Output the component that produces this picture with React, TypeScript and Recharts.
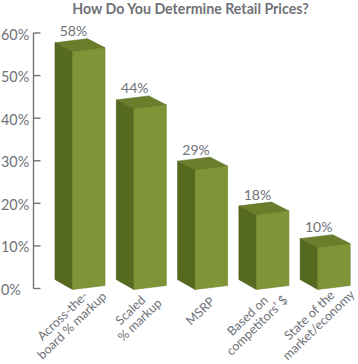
import { ComposedChart, Bar, Line, XAxis, YAxis, LabelList } from 'recharts';

const categories = ['Across-the-|board % markup', 'Scaled|% markup', 'MSRP', 'Based on|competitors’ $', 'State of the|market/economy'];
const values = [58, 44, 29, 18, 10];
const yTicks = [0, 10, 20, 30, 40, 50, 60];

const data = categories.map((name, i) => ({ name, value: values[i] }));

const GREY = '#6f7278';
const FONT = 'Lato, sans-serif';

// hand placement of the rotated labels, relative to the tick
const labelNudge = [
    [-22, 32],
    [-15.5, 26.5],
    [-11.6, 22.5],
    [-20.9, 32],
    [-20.5, 31.5],
];

const Bar3D = ({ x, y, width, height }: any) => {
    const dx = 17.5;
    const dy = 9;
    const skew = 4;
    const bottom = y + height + 1;
    const l = x;
    const r = x + width;
    return (
        <g>
            <polygon points={`${l - dx},${y - dy} ${l},${y} ${l},${bottom} ${l - dx},${bottom - dy - 1}`} fill="#55691f" stroke="#46581a" strokeWidth={0.6} />
            <polygon points={`${l - dx},${y - dy} ${r - dx},${y - skew - dy} ${r},${y - skew} ${l},${y}`} fill="#6a7d2b" stroke="#55691f" strokeWidth={0.6} />
            <polygon points={`${l},${y} ${r},${y - skew} ${r},${bottom - skew} ${l},${bottom}`} fill="#7f9437" stroke="#6e8328" strokeWidth={0.6} />
        </g>
    );
};

const ValueLabel = ({ x, y, value }: any) => (
    <text x={x + 1} y={y - 15.5} textAnchor="middle" fontFamily={FONT} fontSize={14} fill={GREY}>
        {value}%
    </text>
);

const YTick = ({ y, payload }: any) => (
    <g>
        <line x1={33.5} x2={40.5} y1={y} y2={y} stroke={GREY} strokeWidth={1.4} />
        <text x={1} y={y + 6.5} textAnchor="start" fontFamily={FONT} fontSize={14.4} fill={GREY}>
            {payload.value}%
        </text>
    </g>
);

const XTick = ({ x, payload, index }: any) => {
    const lines = String(payload.value).split('|');
    const [ox, oy] = labelNudge[index];
    const cx = x + ox;
    const cy = 288.5 + oy;
    return (
        <g transform={`rotate(-44 ${cx} ${cy})`}>
            {lines.map((line, i) => (
                <text
                    key={line}
                    x={cx}
                    y={cy + 4.5 + (i - (lines.length - 1) / 2) * 13.5}
                    textAnchor="middle"
                    fontFamily={FONT}
                    fontSize={12.6}
                    fill={GREY}
                >
                    {line}
                </text>
            ))}
        </g>
    );
};

export default function App() {
    return (
        <div style={{ position: 'absolute', left: 0, top: 0, width: 358, height: 364, overflow: 'hidden', background: '#fff' }}>
            <div
                style={{
                    position: 'absolute',
                    left: 0,
                    width: 381,
                    top: -1,
                    textAlign: 'center',
                    fontFamily: FONT,
                    fontWeight: 700,
                    fontSize: 14.2,
                    lineHeight: '20px',
                    color: GREY,
                }}
            >
                How Do You Determine Retail Prices?
            </div>
            <ComposedChart
                width={365}
                height={364}
                data={data}
                barSize={32.5}
                margin={{ top: 33, right: 0, bottom: 0, left: 0 }}
            >
                <XAxis
                    dataKey="name"
                    interval={0}
                    height={75.5}
                    padding={{ left: 25, right: 0 }}
                    axisLine={false}
                    tickLine={false}
                    tick={<XTick />}
                />
                <YAxis
                    yAxisId="scale"
                    width={33.5}
                    domain={[0, 60]}
                    ticks={yTicks}
                    axisLine={{ stroke: GREY, strokeWidth: 1.4 }}
                    tickLine={false}
                    tick={<YTick />}
                />
                {/* bars sit on a slightly longer scale than the printed axis */}
                <YAxis yAxisId="bars" orientation="right" hide domain={[0, 62.6]} />
                <Line yAxisId="scale" dataKey="value" stroke="none" dot={false} legendType="none" isAnimationActive={false} />
                <Bar yAxisId="bars" dataKey="value" shape={<Bar3D />} isAnimationActive={false}>
                    <LabelList dataKey="value" content={<ValueLabel />} />
                </Bar>
            </ComposedChart>
        </div>
    );
}
